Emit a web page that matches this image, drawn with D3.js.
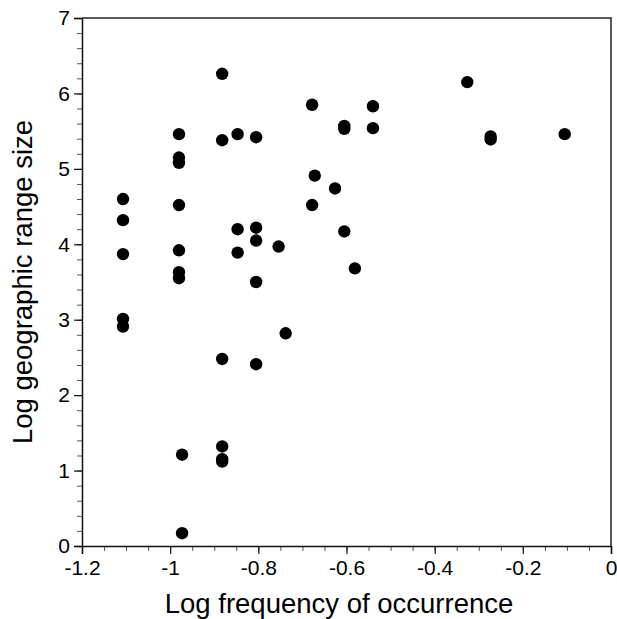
<!DOCTYPE html>
<html>
<head>
<meta charset="utf-8">
<script src="https://cdn.jsdelivr.net/npm/d3@7"></script>
<style>
  body { margin: 0; background: #fff; }
  svg { display: block; font-family: "Liberation Sans", Arial, Helvetica, sans-serif; }
</style>
</head>
<body>
<svg width="617" height="619"></svg>
<script>
// log frequency of occurrence (x) and log geographic range size (y), one entry per species
var freq = [-1.107, -1.107, -1.107, -1.107, -1.107,
            -0.980, -0.980, -0.980, -0.980, -0.980, -0.980, -0.980,
            -0.973, -0.973,
            -0.882, -0.882, -0.882, -0.882, -0.882, -0.882,
            -0.847, -0.847, -0.847,
            -0.805, -0.805, -0.805, -0.805, -0.805,
            -0.754, -0.738,
            -0.678, -0.678, -0.672, -0.626,
            -0.605, -0.605, -0.605, -0.581,
            -0.540, -0.540,
            -0.326, -0.273, -0.273, -0.105];
var range = [4.60, 4.32, 3.87, 3.01, 2.91,
             5.46, 5.15, 5.08, 4.52, 3.92, 3.63, 3.55,
             1.21, 0.17,
             6.26, 5.38, 2.48, 1.32, 1.15, 1.12,
             5.46, 4.20, 3.89,
             5.42, 4.22, 4.05, 3.50, 2.41,
             3.97, 2.82,
             5.85, 4.52, 4.91, 4.74,
             5.57, 5.53, 4.17, 3.68,
             5.83, 5.54,
             6.15, 5.43, 5.39, 5.46];

var xTicks = [-1.2, -1, -0.8, -0.6, -0.4, -0.2, 0];
var yTicks = [0, 1, 2, 3, 4, 5, 6, 7];

var svg = d3.select("svg"),
    margin = {top: 18, right: 6, bottom: 73, left: 82},
    width = +svg.attr("width") - margin.left - margin.right,
    height = +svg.attr("height") - margin.top - margin.bottom,
    g = svg.append("g").attr("transform", "translate(" + margin.left + "," + margin.top + ")");

var x = d3.scaleLinear().domain([-1.2, 0]).range([0, width]);
var y = d3.scaleLinear().domain([0, 7]).range([height, 0]);

var fmt = function(d) { return String(+d.toFixed(1)); };

// minor ticks first, majors on top
g.append("g")
 .attr("class", "minor")
 .attr("transform", "translate(0," + height + ")")
 .call(d3.axisBottom(x).tickValues(d3.range(-1.2, 0.001, 0.05)).tickSize(5).tickFormat(""));

g.append("g")
 .attr("class", "minor")
 .call(d3.axisLeft(y).tickValues(d3.range(0, 7.001, 0.2)).tickSize(5).tickFormat(""));

g.append("g")
 .attr("class", "axis")
 .attr("transform", "translate(0," + height + ")")
 .call(d3.axisBottom(x).tickValues(xTicks).tickSize(8).tickPadding(6).tickFormat(fmt));

g.append("g")
 .attr("class", "axis")
 .call(d3.axisLeft(y).tickValues(yTicks).tickSize(8).tickPadding(4).tickFormat(fmt));

g.selectAll(".minor .domain").remove();
g.selectAll(".minor line").attr("stroke", "#555").attr("stroke-width", 1);
g.selectAll(".axis .domain").attr("stroke", "#111").attr("stroke-width", 1.5);
g.selectAll(".axis line").attr("stroke", "#111").attr("stroke-width", 1.2);
g.selectAll(".axis").attr("font-size", 21)
 .attr("font-family", "'Liberation Sans', Arial, Helvetica, sans-serif");
g.selectAll(".axis text").attr("fill", "#000");

// box: top and right edges
g.append("path")
 .attr("d", "M0,0H" + width + "V" + height)
 .attr("fill", "none")
 .attr("stroke", "#222")
 .attr("stroke-width", 1.5);

g.selectAll(".dot")
 .data(d3.range(freq.length))
 .enter().append("circle")
 .attr("class", "dot")
 .attr("cx", function(i) { return x(freq[i]); })
 .attr("cy", function(i) { return y(range[i]); })
 .attr("r", 6.2)
 .attr("fill", "#000");

svg.append("text")
 .attr("x", 339)
 .attr("y", 613)
 .attr("text-anchor", "middle")
 .attr("font-size", 27.5)
 .text("Log frequency of occurrence");

svg.append("text")
 .attr("transform", "translate(32," + (margin.top + height / 2) + ") rotate(-90)")
 .attr("text-anchor", "middle")
 .attr("font-size", 27.5)
 .text("Log geographic range size");
</script>
</body>
</html>
